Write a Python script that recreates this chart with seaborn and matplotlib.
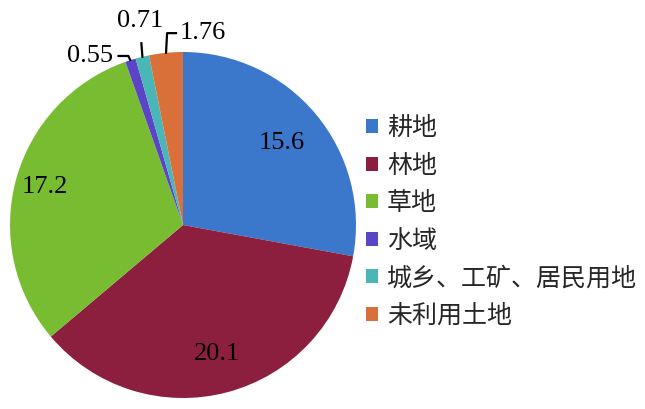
import numpy as np
import matplotlib
matplotlib.use("Agg")
import matplotlib.pyplot as plt
import matplotlib.patches as mpatches
import seaborn as sns

# 土地利用类型及面积
categories = ["耕地", "林地", "草地", "水域", "城乡、工矿、居民用地", "未利用土地"]
values = [15.6, 20.1, 17.2, 0.55, 0.71, 1.76]
value_labels = ["15.6", "20.1", "17.2", "0.55", "0.71", "1.76"]
colors = ["#3b78cc", "#8c1f3d", "#78bc32", "#5b45c6", "#4ab6b8", "#d9703a"]

sns.set_theme(style="white")
plt.rcParams["font.family"] = ["Noto Sans CJK SC", "DejaVu Sans"]
palette = sns.color_palette(colors)

fig = plt.figure(figsize=(6.45, 4.09), dpi=100)
ax = fig.add_axes([9 / 645, 11 / 409, 348 / 645, 346 / 409])

wedges, _ = ax.pie(values, colors=palette, startangle=90, counterclock=False,
                   radius=1.0, wedgeprops=dict(linewidth=0))
ax.set_xlim(-1, 1)
ax.set_ylim(-1, 1)
ax.set_aspect("equal")
ax.axis("off")

num_font = dict(family="Liberation Serif", fontsize=19, color="black")

# 大扇区: 标签放在扇区内部
inner_r = [0.74, 0.77, 0.83]
for w, lab, r in zip(wedges[:3], value_labels[:3], inner_r):
    ang = np.deg2rad((w.theta1 + w.theta2) / 2)
    ax.text(r * np.cos(ang), r * np.sin(ang), lab, ha="center", va="center",
            clip_on=False, **num_font)

# 小扇区: 引导线 + 外部标签
# (文本位置, 折线点)
outer = [
    ((-0.54, 0.977), [(-0.316, 0.977), (-0.379, 0.977)]),
    ((-0.247, 1.178), [(-0.241, 1.057)]),
    ((0.112, 1.109), [(-0.092, 1.109), (-0.034, 1.109)]),
]
for w, lab, (tpos, pts) in zip(wedges[3:], value_labels[3:], outer):
    ang = np.deg2rad((w.theta1 + w.theta2) / 2)
    x0, y0 = 0.995 * np.cos(ang), 0.995 * np.sin(ang)
    xs = [x0] + [p[0] for p in pts]
    ys = [y0] + [p[1] for p in pts]
    ax.plot(xs, ys, color="black", lw=1.6, clip_on=False,
            solid_capstyle="butt")
    ax.text(tpos[0], tpos[1], lab, ha="center", va="center",
            clip_on=False, **num_font)

handles = [mpatches.Patch(facecolor=c, edgecolor="none") for c in palette]
fig.legend(handles, categories, loc="center left",
           bbox_to_anchor=(366 / 645, 1 - 222 / 409), frameon=False,
           fontsize=18, handlelength=0.48, handleheight=0.48,
           handletextpad=0.36, labelspacing=0.46, borderpad=0,
           borderaxespad=0)

fig.savefig("out.png", dpi=100)
